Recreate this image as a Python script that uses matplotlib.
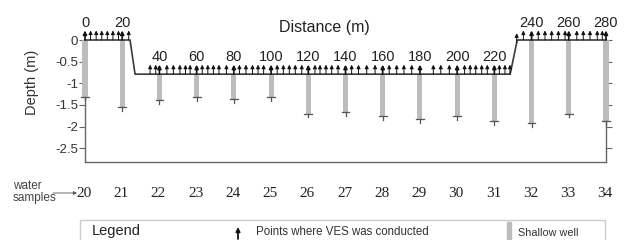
import matplotlib
matplotlib.use('Agg')
import numpy as np
import matplotlib.pyplot as plt
from matplotlib.patches import Rectangle

plt.rcParams['font.family'] = ['Liberation Sans', 'DejaVu Sans']

# distance labels / shallow wells (m)
well_x = [0, 20, 40, 60, 80, 100, 120, 140, 160, 180, 200, 220, 240, 260, 280]
well_depth = [-1.31, -1.55, -1.39, -1.32, -1.37, -1.32, -1.71, -1.67,
              -1.76, -1.83, -1.76, -1.875, -1.92, -1.71, -1.875]
samples = [20, 21, 22, 23, 24, 25, 26, 27, 28, 29, 30, 31, 32, 33, 34]

# ground surface profile
surf_x = [0, 24.2, 26.9, 228.5, 232.3, 280]
surf_y = [0, 0, -0.79, -0.79, 0, 0]

# VES points
ves_x = [0, 3, 6, 9, 12, 15, 18, 20, 23.5,
         35, 38, 40, 44, 47.5, 51, 54, 56.5, 60, 63, 66, 69, 72, 76, 80, 83,
         86.5, 90, 93, 96, 100, 103.3, 106.6, 109.8, 113, 116.5, 120, 123.6,
         126.3, 129.5, 132.6, 136, 140, 143.3, 147, 151.4, 155.9, 160, 163.5,
         167.5, 171.4, 175.6, 180, 187.2, 191.2, 195.8, 200, 204, 207, 210,
         213.2, 216.2, 220, 222.7, 225.7, 228.4,
         232, 235.6, 240, 243.6, 247.2, 250.8, 254.4, 258, 260, 264.3, 267.8,
         271.4, 275.3, 278, 280]

dark = '#3a3a3a'
gray = '#666666'

fig = plt.figure(figsize=(6.3, 2.4), dpi=100)
ax = fig.add_axes([85/630, 78/240, 521/630, 122/240])
ax.set_xlim(0, 280)
ax.set_ylim(-2.82, 0)

for s in ['left', 'right', 'bottom']:
    ax.spines[s].set_color(gray)
    ax.spines[s].set_linewidth(1)
ax.spines['top'].set_visible(False)

ax.set_xticks([])
ax.set_yticks([0, -0.5, -1, -1.5, -2, -2.5])
ax.set_yticklabels(['0', '-0.5', '-1', '-1.5', '-2', '-2.5'])
ax.tick_params(axis='y', left=True, right=True, direction='out', length=4,
               color=gray, labelsize=9.5, labelcolor='#333333', pad=1)
ax.set_ylabel('Depth (m)', fontsize=10.5, color='#333333')
ax.yaxis.set_label_coords(-0.088, 0.656)

# surface line
ax.plot(surf_x, surf_y, color=dark, lw=1.2, clip_on=False, zorder=4)

# wells
tops = np.interp(well_x, surf_x, surf_y)
ax.bar(well_x, np.array(well_depth) - tops, bottom=tops, width=2.7,
       color='#bcbcbc', clip_on=False, zorder=3)
for x, d in zip(well_x, well_depth):
    ax.plot([x - 2.1, x + 2.1], [d, d], color='#555555', lw=0.9, clip_on=False, zorder=3)
    ax.plot([x, x], [d, d - 0.08], color='#555555', lw=0.9, clip_on=False, zorder=3)

# VES arrows
ves_y = np.interp(ves_x, surf_x, surf_y)
for x, y in zip(ves_x, ves_y):
    bold = x in well_x
    ax.annotate('', xy=(x, y + 0.22), xytext=(x, y),
                arrowprops=dict(arrowstyle='-|>', color='#111111',
                                lw=1.2 if bold else 0.7, mutation_scale=5.5,
                                shrinkA=0, shrinkB=0),
                annotation_clip=False, zorder=5)

# distance labels
for x, y in zip(well_x, tops):
    ax.text(x, y + 0.31, str(x), ha='center', va='baseline', fontsize=10.5,
            color='#222222', clip_on=False)
ax.text(128.4, 0.28, 'Distance (m)', ha='center', va='center', fontsize=11.5,
        color='#222222')

# water samples row
for x, s in zip(well_x, samples):
    ax.text(x - 0.5, -3.54, str(s), ha='center', va='center', fontsize=11,
            family='Liberation Serif', color='#222222', clip_on=False)
fig.text(13/630, 1 - 192/240, 'water\nsamples', va='center', ha='left',
         fontsize=8.5, color='#444444', linespacing=1.1)
ax.annotate('', xy=(77/630, 1 - 193/240), xytext=(53/630, 1 - 193/240),
            xycoords='figure fraction', textcoords='figure fraction',
            arrowprops=dict(arrowstyle='-|>', color='#555555', lw=0.6,
                            mutation_scale=5, shrinkA=0, shrinkB=0))

# legend box
fig.patches.append(Rectangle((80/630, -0.1), 525/630, 0.1 + 20/240,
                             transform=fig.transFigure, fill=False,
                             edgecolor='#cccccc', lw=1))
fig.text(92/630, 1 - 231/240, 'Legend', fontsize=10.5, va='center', color='#222222')
ax.annotate('', xy=(238/630, 1 - 227/240), xytext=(238/630, 1 - 239/240),
            xycoords='figure fraction', textcoords='figure fraction',
            arrowprops=dict(arrowstyle='-|>', color='#111111', lw=1.3,
                            mutation_scale=6, shrinkA=0, shrinkB=0))
fig.text(256/630, 1 - 232/240, 'Points where VES was conducted', fontsize=8.3,
         va='center', color='#333333')
fig.patches.append(Rectangle((507/630, -0.1), 4/630, 0.1 + 18/240,
                             transform=fig.transFigure, color='#bcbcbc'))
fig.text(518/630, 1 - 233/240, 'Shallow well', fontsize=7.8, va='center',
         color='#333333')

fig.savefig('out.png', dpi=100)
